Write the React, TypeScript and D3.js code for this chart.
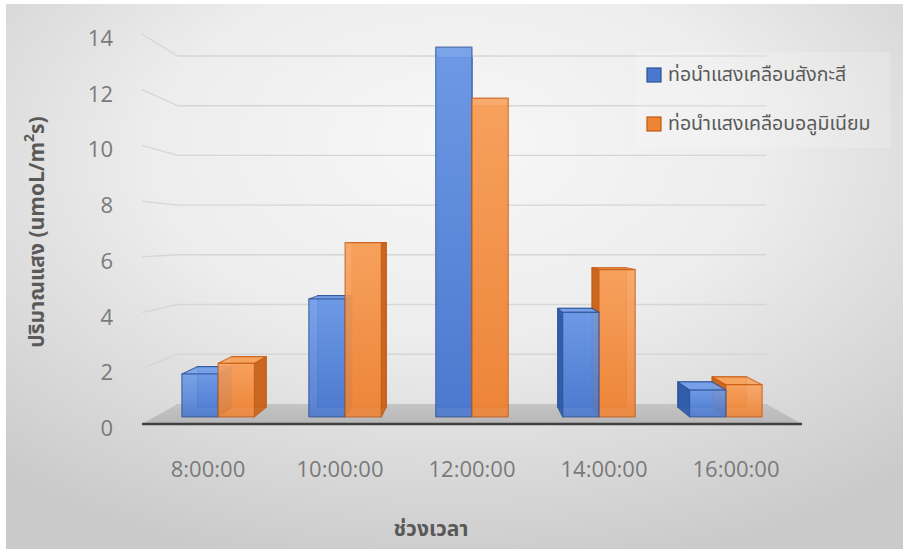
import React from "react";
import * as d3 from "d3";

const categories = ["8:00:00", "10:00:00", "12:00:00", "14:00:00", "16:00:00"];
const seriesNames = ["ท่อนำแสงเคลือบสังกะสี", "ท่อนำแสงเคลือบอลูมิเนียม"];
const zincValues = [1.6, 4.4, 13.8, 3.9, 1.0];
const aluminiumValues = [2.0, 6.5, 11.9, 5.5, 1.2];
const yTicks = [0, 2, 4, 6, 8, 10, 12, 14];
const yTitle = "ปริมาณแสง (umoL/m";
const xTitle = "ช่วงเวลา";

const W = 903;
const H = 549;
const THAI = "'Noto Sans Thai', 'Noto Sans Thai UI', Tahoma, 'Leelawadee UI', 'Noto Sans', sans-serif";
const LATIN = "'Open Sans', 'Noto Sans', 'Segoe UI', sans-serif";

// one-point perspective: front-plane coordinates shrink toward the vanishing point with depth
const VP = { x: 472, y: 238 };
const depthK = 0.121;
const depthScale = (z: number) => 1 / (1 + depthK * z);
const project = (x: number, y: number, z: number): [number, number] => {
  const s = depthScale(z);
  return [VP.x + (x - VP.x) * s, VP.y + (y - VP.y) * s];
};

const xBand = d3.scaleBand<string>().domain(categories).range([142, 802]);
const yLin = d3.scaleLinear().domain([0, 14]).range([424, 34]);
const seriesBand = d3
  .scaleBand<number>()
  .domain([0, 1])
  .range([0, xBand.bandwidth()])
  .paddingInner(0)
  .paddingOuter(0.75);

const BAR_Z0 = 0.33;
const BAR_Z1 = 0.82;

const palettes = [
  { front0: "#6e9be8", front1: "#4a78cf", top: "#7aa3ea", side: "#2f5aa8", back: "#3e69bd", edge: "#2c5296" },
  { front0: "#f9a35f", front1: "#ee8436", top: "#f7a561", side: "#c8641c", back: "#de7428", edge: "#c55a11" },
];

type Pt = [number, number];
const poly = (pts: Pt[]) => pts.map((p) => p.join(",")).join(" ");

interface Bar {
  key: string;
  s: number;
  x0: number;
  x1: number;
  y0: number;
  y1: number;
}

export default function App() {
  const bars: Bar[] = [];
  categories.forEach((c, i) => {
    [zincValues, aluminiumValues].forEach((vals, s) => {
      const x0 = (xBand(c) ?? 0) + (seriesBand(s) ?? 0);
      bars.push({ key: `${c}-${s}`, s, x0, x1: x0 + seriesBand.bandwidth(), y0: yLin(0), y1: yLin(vals[i]) });
    });
  });
  // paint bars far from the vanishing point first so nearer side faces overlap correctly
  bars.sort(
    (a, b) => Math.abs((b.x0 + b.x1) / 2 - VP.x) - Math.abs((a.x0 + a.x1) / 2 - VP.x)
  );

  const floorFront = yLin(0);
  const floor: Pt[] = [
    project(xBand.range()[0], floorFront, 0),
    project(xBand.range()[1], floorFront, 0),
    project(xBand.range()[1], floorFront, 1),
    project(xBand.range()[0], floorFront, 1),
  ];

  return (
    <svg width={W} height={H} style={{ display: "block", position: "absolute", left: 0, top: 0 }}>
      <defs>
        <radialGradient id="bg" cx="0.5" cy="0.3" r="0.75" fx="0.5" fy="0.25">
          <stop offset="0" stopColor="#f7f7f7" />
          <stop offset="0.45" stopColor="#ededed" />
          <stop offset="1" stopColor="#cacaca" />
        </radialGradient>
        <linearGradient id="floorGrad" x1="0" y1="0" x2="0" y2="1">
          <stop offset="0" stopColor="#c4c4c4" />
          <stop offset="1" stopColor="#b7b7b7" />
        </linearGradient>
        {palettes.map((p, i) => (
          <linearGradient key={i} id={`front${i}`} x1="0" y1="0" x2="0" y2="1">
            <stop offset="0" stopColor={p.front0} />
            <stop offset="1" stopColor={p.front1} />
          </linearGradient>
        ))}
      </defs>
      <rect x={0} y={0} width={W} height={H} fill="#ffffff" />
      <rect x={6} y={4} width={W - 6} height={H - 4} fill="url(#bg)" />

      {/* gridlines on the back wall and the (hidden) left side wall */}
      {yTicks.filter((t) => t > 0).map((t) => {
        const a = project(xBand.range()[0], yLin(t), 0);
        const b = project(xBand.range()[0], yLin(t), 1);
        const c = project(xBand.range()[1], yLin(t), 1);
        return (
          <g key={t} stroke="#d6d6d6" strokeWidth={1.4} fill="none">
            <line x1={a[0]} y1={a[1]} x2={b[0]} y2={b[1]} />
            <line x1={b[0]} y1={b[1]} x2={c[0]} y2={c[1]} />
          </g>
        );
      })}

      {/* floor */}
      <polygon points={poly(floor)} fill="url(#floorGrad)" />
      <line
        x1={floor[0][0]}
        y1={floor[0][1]}
        x2={floor[1][0]}
        y2={floor[1][1]}
        stroke="#404040"
        strokeWidth={2.6}
      />

      {/* 3D columns */}
      {bars.map((b) => {
        const p = palettes[b.s];
        const fbl = project(b.x0, b.y0, BAR_Z0);
        const fbr = project(b.x1, b.y0, BAR_Z0);
        const ftl = project(b.x0, b.y1, BAR_Z0);
        const ftr = project(b.x1, b.y1, BAR_Z0);
        const bbl = project(b.x0, b.y0, BAR_Z1);
        const bbr = project(b.x1, b.y0, BAR_Z1);
        const btl = project(b.x0, b.y1, BAR_Z1);
        const btr = project(b.x1, b.y1, BAR_Z1);
        const faces: { pts: Pt[]; fill: string; op: number }[] = [];
        faces.push({ pts: [bbl, bbr, btr, btl], fill: p.back, op: 0.8 });
        if (b.x0 > VP.x) faces.push({ pts: [fbl, bbl, btl, ftl], fill: p.side, op: 0.92 });
        if (b.x1 < VP.x) faces.push({ pts: [fbr, bbr, btr, ftr], fill: p.side, op: 0.92 });
        if (ftl[1] > VP.y) faces.push({ pts: [ftl, ftr, btr, btl], fill: p.top, op: 0.92 });
        faces.push({ pts: [fbl, fbr, ftr, ftl], fill: `url(#front${b.s})`, op: 0.9 });
        return (
          <g key={b.key}>
            {faces.map((f, k) => (
              <polygon
                key={k}
                points={poly(f.pts)}
                fill={f.fill}
                fillOpacity={f.op}
                stroke={p.edge}
                strokeOpacity={0.75}
                strokeWidth={1.2}
                strokeLinejoin="round"
              />
            ))}
          </g>
        );
      })}

      {/* value axis labels, aligned with the front edge of the side wall */}
      {yTicks.map((t) => (
        <text
          key={t}
          x={113}
          y={yLin(t) + 3}
          textAnchor="end"
          dominantBaseline="central"
          fontFamily={LATIN}
          fontSize={22}
          fill="#7a7a7a"
        >
          {t}
        </text>
      ))}

      {/* category labels */}
      {categories.map((c) => (
        <text
          key={c}
          x={(xBand(c) ?? 0) + xBand.bandwidth() / 2}
          y={468}
          textAnchor="middle"
          dominantBaseline="central"
          fontFamily={LATIN}
          fontSize={22}
          fill="#7a7a7a"
        >
          {c}
        </text>
      ))}

      {/* legend */}
      <rect x={636} y={52} width={254} height={96} fill="#ffffff" fillOpacity={0.18} />
      {seriesNames.map((n, i) => (
        <g key={n} transform={`translate(647, ${75 + i * 49})`}>
          <rect
            x={0}
            y={-7}
            width={14}
            height={14}
            fill={palettes[i].front1}
            stroke={palettes[i].edge}
            strokeWidth={1.2}
          />
          <text x={21} y={0} dominantBaseline="central" fontFamily={THAI} fontSize={19.5} fill="#595959">
            {n}
          </text>
        </g>
      ))}

      {/* axis titles */}
      <text
        transform="translate(37, 232) rotate(-90)"
        textAnchor="middle"
        dominantBaseline="central"
        fontFamily={THAI}
        fontSize={21}
        fontWeight="bold"
        fill="#595959"
      >
        {yTitle}
        <tspan fontSize={14} dy={-8}>2</tspan>
        <tspan dy={8}>s)</tspan>
      </text>
      <text
        x={431}
        y={529}
        textAnchor="middle"
        dominantBaseline="central"
        fontFamily={THAI}
        fontSize={21}
        fontWeight="bold"
        fill="#595959"
      >
        {xTitle}
      </text>
    </svg>
  );
}
